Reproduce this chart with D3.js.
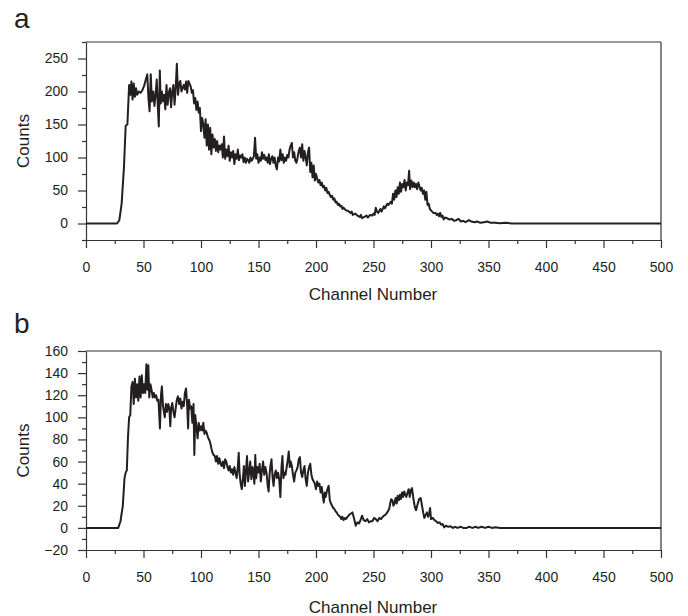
<!DOCTYPE html>
<html>
<head>
<meta charset="utf-8">
<script src="https://cdn.jsdelivr.net/npm/d3@7"></script>
<style>
  body { margin: 0; background: #fff; }
  svg text { font-family: "Liberation Sans", Arial, sans-serif; fill: #231f20; }
</style>
</head>
<body>
<svg id="chart" width="688" height="616"></svg>
<script>
// spectrum a: [channel, counts]
var spectrumA = [
  [0,0],[27,0],[29,5],[31,30],[33,85],[34.5,148],[36,150],[37.5,210],[38.5,195],[39.5,215],[40.5,188],[41.5,212],[42.5,192],
  [43.5,205],[44.5,195],[46,200],[47.5,198],[49,202],[50.5,208],[52,218],[53.3,226],[54.3,190],[55.3,170],[56.3,226],[57.3,185],
  [58.5,200],[59.5,178],[60.5,195],[61.5,218],[62.5,175],[63.3,147],[64.2,232],[65,182],[66,200],[67,185],[68,195],[69,173],
  [70,210],[71,180],[72,198],[73,205],[74,176],[75,200],[76,210],[77,180],[78,205],[79,242],[80,195],[81,212],[82,216],[83,200],
  [84,205],[85,210],[86,203],[87,215],[88,198],[89,216],[90,212],[91,208],[92,198],[93,202],[94,182],[95,190],[96,172],[97,185],
  [98,168],[99,175],[100,140],[101,160],[102,150],[103,130],[104,158],[105,118],[106,150],[107,112],[108,145],[109,105],[110,135],
  [111,115],[112,128],[113,110],[114,125],[115,108],[116,118],[117,112],[118,120],[119,100],[120,132],[121,98],[122,112],[123,102],
  [124,118],[125,95],[126,108],[127,100],[128,110],[129,90],[130,105],[131,98],[132,112],[133,96],[134,103],[135,100],[136,105],
  [137,93],[138,100],[139,92],[140,98],[141,96],[142,92],[143,100],[144,95],[145,98],[146,102],[147,130],[148,98],[149,105],
  [150,92],[151,100],[152,95],[153,108],[154,98],[155,104],[156,96],[157,100],[158,92],[159,105],[160,90],[161,98],[162,102],
  [163,92],[164,100],[165,88],[166,82],[167,100],[168,94],[169,112],[170,96],[171,105],[172,92],[173,100],[174,95],[175,104],
  [176,100],[177,112],[178,118],[179,122],[180,100],[181,108],[182,95],[183,92],[184,100],[185,110],[186,115],[187,100],[188,120],
  [189,95],[190,110],[191,100],[192,88],[193,108],[194,115],[195,78],[196,92],[197,70],[198,88],[199,65],[200,75],[201,68],
  [202,62],[203,66],[204,58],[205,62],[206,55],[207,57],[208,50],[209,54],[210,46],[211,48],[212,43],[213,40],[214,42],[215,36],
  [216,38],[217,32],[218,33],[219,28],[220,30],[221,26],[222,27],[223,22],[224,24],[226,20],[228,19],[230,16],[231,18],[232,13],
  [234,15],[236,12],[238,10],[239,13],[240,8],[242,10],[244,12],[245,9],[247,13],[249,12],[250,15],[251,13],[252,24],[253,18],
  [254,16],[256,22],[257,18],[259,26],[260,23],[262,30],[263,28],[265,33],[266,30],[267,45],[268,36],[269,50],[270,40],[271,55],
  [272,45],[273,62],[274,48],[275,60],[276,55],[277,66],[278,50],[279,62],[280,58],[281,80],[281.8,52],[283,65],[284,55],[285,62],
  [286,55],[287,60],[288,52],[289,62],[290,56],[291,50],[292,54],[293,45],[294,50],[295,36],[296,48],[297,28],[298,30],[299,22],
  [300,20],[301,18],[302,16],[304,16],[305,13],[306,15],[307,11],[308,16],[309,10],[310,12],[311,6],[312,9],[314,8],[316,6],
  [318,7],[320,4],[322,5],[324,7],[326,3],[328,4],[330,2],[333,5],[335,3],[338,2],[340,3],[343,1],[346,2],[349,3],[352,1],
  [356,1],[360,0.5],[365,1],[370,0],[500,0]
];

// spectrum b: [channel, counts]
var spectrumB = [
  [0,0],[28,0],[30,6],[32,20],[33.5,45],[34.5,50],[35.5,52],[36.5,82],[37.5,100],[38.5,102],[39.5,128],[40.5,132],[41.5,112],
  [42.5,135],[43.5,118],[44.5,130],[45.5,115],[46.5,137],[47.5,118],[48.5,138],[49.5,122],[50.5,130],[51.5,122],[52.5,148],
  [53.3,125],[54.2,147],[55,118],[56,130],[57,125],[58,118],[59,122],[60,118],[61,120],[62,115],[63,116],[64.3,90],[65.2,120],
  [66,128],[67,110],[68.5,100],[69.5,112],[70.5,105],[71.5,112],[72.5,108],[73.3,92],[74,108],[75,113],[76,105],[77,100],
  [78,108],[79,116],[80,119],[81,112],[82,117],[83,108],[84,114],[85,110],[86,122],[87,126],[88,110],[88.8,90],[89.5,116],
  [90.5,108],[91.5,110],[92.5,95],[93.5,112],[94.2,66],[95,102],[96,92],[97,81],[98,95],[99,88],[100,92],[101,88],[102,95],
  [103,85],[104,88],[105,86],[106,82],[107,80],[108,77],[109,72],[110,68],[111,66],[112,65],[113,60],[114,65],[115,58],[116,63],
  [117,58],[118,56],[119,60],[120,54],[121,62],[122,60],[123,55],[124,52],[125,56],[126,50],[127,53],[128,48],[129,55],[130,50],
  [131,45],[132,55],[132.8,68],[133.5,50],[134.5,40],[135.5,35],[136.5,45],[137.3,56],[138.2,38],[139,50],[140,65],[141,42],
  [142,52],[142.8,60],[143.8,44],[144.8,55],[145.6,50],[146.4,40],[147.2,66],[148,45],[149,55],[150,50],[151,58],[152,42],
  [153,52],[154,60],[155,48],[156,55],[157,50],[158,38],[158.8,33],[159.6,48],[160.4,56],[161.3,62],[162.2,46],[163.1,38],
  [164,48],[165,52],[166,45],[167,50],[168,44],[169,28],[170,55],[170.8,65],[171.7,45],[172.6,50],[173.5,48],[174.5,55],
  [175.5,62],[176.3,69],[177.2,55],[178,60],[179,56],[180,48],[181,42],[182,50],[183,52],[184,55],[185,62],[186,64],[187,50],
  [188,46],[189,52],[190,56],[191,44],[192,38],[193,50],[194,55],[195,58],[196,48],[197,44],[198,42],[199,40],[200,35],[201,42],
  [202,38],[203,40],[204,32],[205,37],[206,28],[206.8,23],[207.6,32],[208.5,28],[209.4,33],[210.3,36],[211,38],[212,25],[213,22],
  [214,20],[215,18],[216,17],[217,15],[218,14],[219,12],[220,11],[221,10],[222,8],[223,10],[224,7],[225,9],[226,8],[227.4,10],
  [229,12],[230.5,13],[231.7,14],[233,9],[234.6,2],[236,5],[237.5,4],[239,8],[240,11],[241.5,7],[243,6],[244.5,8],[246,5],
  [247.5,6],[249,6],[250.5,9],[252,8],[253.5,6],[255,9],[256.5,8],[258,10],[259,11],[260.5,12],[262,14],[263.6,17],[264.5,22],
  [265.3,26],[266.4,25],[267.3,20],[268.2,22],[269.2,27],[270.2,22],[271,29],[272,25],[273,30],[273.8,26],[274.8,32],[275.7,28],
  [276.7,33],[277.6,30],[278.5,28],[279.6,32],[280.6,35],[281.5,28],[282.5,34],[283.5,36],[284.5,28],[285.4,22],[286.2,18],
  [287,16],[288.5,22],[289.7,26],[291,27],[292.2,20],[293.2,14],[294.2,9],[295.5,12],[296.5,14],[297.5,10],[298.5,13],[299.2,18],
  [300,8],[301.5,9],[303,7],[304.5,6],[306,4.5],[307.5,5],[308.6,3],[310,3.5],[311.5,0.5],[313,2],[315,1],[317,1.5],[319,0],
  [321,1],[323,0],[326,1],[328,0],[331,0],[333,1],[336,0],[339,1],[341,0],[344,1],[347,0],[350,1],[353,0],[356,0.5],[360,0],
  [500,0]
];

var xTicks = [0, 50, 100, 150, 200, 250, 300, 350, 400, 450, 500];
var yTicksA = [0, 50, 100, 150, 200, 250];
var yTicksB = [-20, 0, 20, 40, 60, 80, 100, 120, 140, 160];

var svg = d3.select("#chart");

function drawPanel(opts) {
  var x = d3.scaleLinear().domain([0, 500]).range([86, 661]);
  var y = d3.scaleLinear().domain(opts.yDomain).range([opts.bottom, opts.top]);
  var g = svg.append("g");

  // minor ticks first, unlabeled
  var xMinor = d3.range(25, 500, 50);
  g.append("g")
    .attr("transform", "translate(0," + opts.bottom + ")")
    .call(d3.axisBottom(x).tickValues(xMinor).tickSize(4).tickFormat(""))
    .call(function(a) { a.select(".domain").remove(); });
  g.append("g")
    .attr("class", "xaxis")
    .attr("transform", "translate(0," + opts.bottom + ")")
    .call(d3.axisBottom(x).tickValues(xTicks).tickSize(8).tickSizeOuter(0).tickPadding(14));

  g.append("g")
    .attr("transform", "translate(86,0)")
    .call(d3.axisLeft(y).tickValues(opts.yMinor).tickSize(4).tickFormat(""))
    .call(function(a) { a.select(".domain").remove(); });
  g.append("g")
    .attr("class", "yaxis")
    .attr("transform", "translate(86,0)")
    .call(d3.axisLeft(y).tickValues(opts.yTicks).tickSize(8).tickSizeOuter(0).tickPadding(10));

  // frame top and right
  g.append("line").attr("x1", 86).attr("x2", 661).attr("y1", opts.top).attr("y2", opts.top)
    .attr("stroke", "#333").attr("stroke-width", 1.2);
  g.append("line").attr("x1", 661).attr("x2", 661).attr("y1", opts.top).attr("y2", opts.bottom)
    .attr("stroke", "#333").attr("stroke-width", 1.2);

  g.selectAll(".tick line").attr("stroke", "#333").attr("stroke-width", 1.2);
  g.selectAll(".domain").attr("stroke", "#333").attr("stroke-width", 1.2);
  g.selectAll(".tick text").attr("font-size", 14).style("fill", "#231f20");

  var line = d3.line()
    .x(function(d) { return x(d[0]); })
    .y(function(d) { return y(d[1]); });

  g.append("path")
    .datum(opts.data)
    .attr("d", line)
    .attr("fill", "none")
    .attr("stroke", "#231f20")
    .attr("stroke-width", 2)
    .attr("stroke-linejoin", "round");

  g.append("text").attr("x", 373).attr("y", opts.bottom + opts.titleGap)
    .attr("text-anchor", "middle").attr("font-size", 17).text("Channel Number");
  g.append("text")
    .attr("transform", "translate(29," + ((opts.top + opts.bottom) / 2) + ") rotate(-90)")
    .attr("text-anchor", "middle").attr("font-size", 17).text("Counts");
  g.append("text").attr("x", 14).attr("y", opts.labelY)
    .attr("font-size", 28).text(opts.label);
}

drawPanel({ data: spectrumA, yDomain: [-25, 275], top: 42, bottom: 240, titleGap: 60,
  yTicks: yTicksA, yMinor: d3.range(-25, 276, 50), label: "a", labelY: 28 });
drawPanel({ data: spectrumB, yDomain: [-20, 160], top: 351, bottom: 550, titleGap: 63,
  yTicks: yTicksB, yMinor: d3.range(-10, 160, 20), label: "b", labelY: 333 });
</script>
</body>
</html>
